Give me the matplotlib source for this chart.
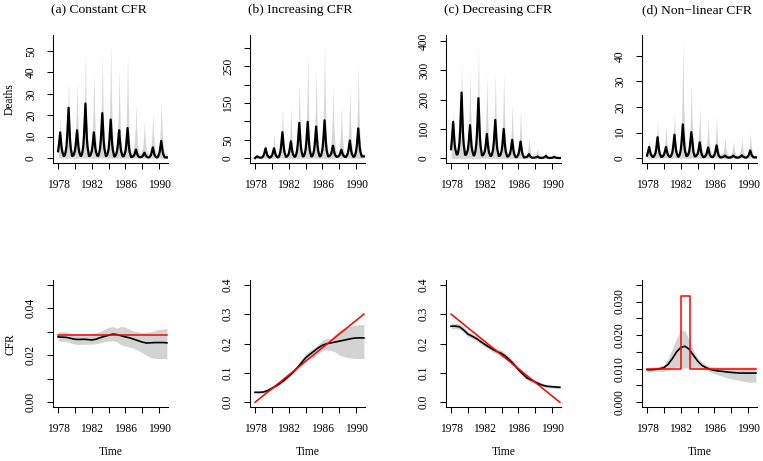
import numpy as np
import matplotlib
matplotlib.use("Agg")
import matplotlib.pyplot as plt

plt.rcParams['font.family'] = ['Liberation Serif', 'DejaVu Serif']

# figure geometry in pixels
W, H = 763, 461
AX_LEFT = [53, 250, 446, 642]
AX_W = 115
TOP_ROW = (35, 163)
BOT_ROW = (280, 407)
TITLE_X = [99, 300.5, 498, 696.7]

TITLES = ['(a) Constant CFR', '(b) Increasing CFR', '(c) Decreasing CFR', '(d) Non\u2212linear CFR']
XTICKS = [1978, 1980, 1982, 1984, 1986, 1988, 1990]
XTICK_LABELS = ['1978', '', '1982', '', '1986', '', '1990']

# monthly deaths, one row per year 1978..1990 (Jan..Dec)
MONTHS = 1978 + np.arange(156) / 12

DEATHS_MED_A = [
    [3.2, 5.4, 8.7, 12, 8.2, 4.9, 2.9, 1.9, 1, 1, 1.7, 3.3],
    [5.5, 10, 16.8, 23.5, 15.6, 8.9, 4.8, 2.8, 1, 1, 1.4, 2.2],
    [3.4, 5.8, 9.4, 13, 8.8, 5.2, 3, 2, 1, 1, 1.7, 3.5],
    [5.9, 10.8, 18.2, 25.5, 16.9, 9.6, 5.2, 3, 1, 1, 1.3, 2.1],
    [3.2, 5.4, 8.7, 12, 8.2, 4.9, 2.9, 1.9, 1, 1, 1.6, 3],
    [5, 9, 15, 21, 14, 8, 4.4, 2.6, 1, 1, 1.5, 2.7],
    [4.2, 7.7, 12.8, 18, 12, 6.8, 3.7, 2.2, 0.8, 0.8, 1.2, 2],
    [3.2, 5.7, 9.3, 13, 8.7, 5.1, 2.9, 1.8, 0.8, 0.8, 1.2, 2.1],
    [3.2, 5.9, 10, 14, 9.3, 5.2, 2.8, 1.6, 0.5, 0.5, 0.6, 0.9],
    [1.1, 1.8, 2.9, 4, 2.7, 1.7, 1, 0.7, 0.4, 0.4, 0.5, 0.6],
    [0.7, 1.2, 1.8, 2.5, 1.7, 1.1, 0.7, 0.5, 0.3, 0.3, 0.4, 0.8],
    [1.2, 2.2, 3.6, 5, 3.4, 1.9, 1.1, 0.7, 0.3, 0.3, 0.5, 1.1],
    [1.8, 3.4, 5.7, 8, 5.3, 3, 1.6, 0.9, 0.3, 0.3, 0.3, 0.3],
]
DEATHS_HI_A = [
    [5.3, 7.5, 11.3, 18, 10.5, 7, 5, 3.9, 3, 3, 4, 5.6],
    [8, 12.9, 21.2, 36, 19.5, 11.9, 7.3, 5, 3, 3, 4, 5.6],
    [8, 12.9, 21.2, 36, 19.5, 11.9, 7.3, 5, 3, 3, 4.4, 6.8],
    [10, 17.1, 28.9, 50, 26.5, 15.7, 9.1, 5.8, 3, 3, 4.1, 6],
    [8.6, 14.1, 23.4, 40, 21.5, 13, 7.8, 5.2, 3, 3, 4.4, 6.6],
    [9.8, 16.5, 27.8, 48, 25.5, 15.2, 8.9, 5.7, 3, 3, 4.5, 7],
    [10.5, 18, 30.5, 53, 28, 16.5, 9.5, 6, 3, 3, 4.2, 6.1],
    [8.4, 14.4, 24.2, 42, 22.3, 13.2, 7.6, 4.9, 2.5, 2.5, 3.9, 6.1],
    [9.3, 16.2, 27.5, 48, 25.3, 14.8, 8.4, 5.2, 2.5, 2.5, 3.2, 4.3],
    [5.5, 8.9, 14.7, 25, 13.5, 8.2, 5, 3.4, 2, 2, 2.6, 3.5],
    [4.3, 6.5, 10.3, 17, 9.5, 6, 4, 2.9, 2, 2, 2.6, 3.5],
    [4.9, 7.7, 12.5, 21, 11.5, 7.1, 4.5, 3.1, 2, 2, 2.9, 4.3],
    [5.8, 9.5, 15.8, 27, 14.5, 8.8, 5.3, 3.5, 2, 2, 2, 2],
]

DEATHS_MED_B = [
    [0.5, 2.5, 4, 5, 3.8, 2.7, 2.1, 1.8, 1.5, 1.5, 2.3, 4.1],
    [7, 12, 19.5, 27, 18.3, 10.8, 6.3, 4, 2, 2, 2.8, 4.5],
    [7.4, 12.3, 19.7, 27, 18.4, 11.1, 6.7, 4.5, 2.5, 2.5, 4.6, 9.4],
    [17.4, 30.8, 50.9, 71, 47.6, 27.5, 15.4, 9.4, 4, 4, 5.3, 8.2],
    [12.4, 20.8, 33.4, 46, 31.3, 18.7, 11.1, 7.4, 4, 4, 6.8, 13.2],
    [23.2, 41.4, 68.7, 96, 64.2, 36.9, 20.5, 12.3, 5, 5, 7.8, 14.4],
    [23.8, 42.6, 70.8, 99, 66.1, 37.9, 21, 12.5, 5, 5, 7.4, 13.1],
    [21.2, 37.4, 61.7, 86, 57.7, 33.4, 18.8, 11.5, 5, 5, 7.9, 14.8],
    [24.6, 44.2, 73.6, 103, 68.7, 39.3, 21.7, 12.8, 5, 5, 5.9, 7.9],
    [10, 16, 25, 34, 23.5, 14.5, 9.1, 6.4, 4, 4, 4.6, 5.9],
    [7.4, 11.3, 17.2, 23, 16.2, 10.3, 6.8, 5.1, 3.5, 3.5, 4.8, 8],
    [12.8, 21.6, 34.8, 48, 32.6, 19.4, 11.5, 7.5, 4, 4, 6.3, 11.7],
    [20.2, 35.4, 58.2, 81, 54.4, 31.6, 17.9, 11.1, 5, 5, 5, 5],
]
DEATHS_HI_B = [
    [5.5, 7, 9.5, 14, 9, 6.7, 5.3, 4.6, 4, 4, 5, 6.6],
    [10.5, 15, 22.5, 36, 21, 14.1, 9.9, 7.8, 6, 6, 7.9, 11],
    [17, 26, 41, 68, 38, 24.2, 15.8, 11.6, 8, 8, 11.8, 18.2],
    [28.9, 47.8, 79.3, 136, 73, 44, 26.4, 17.6, 10, 10, 13.8, 20],
    [28.8, 47.5, 78.8, 135, 72.5, 43.8, 26.3, 17.5, 10, 10, 16, 25.9],
    [41.6, 71.1, 120, 209, 110.5, 65.2, 37.6, 23.8, 12, 12, 20.1, 33.6],
    [53.4, 93.7, 161, 282, 147.5, 85.6, 48, 29.1, 13, 13, 19.8, 31.2],
    [47.2, 81.4, 138, 241, 127, 74.6, 42.6, 26.7, 13, 13, 21.9, 36.7],
    [57.4, 101.8, 176, 309, 161, 92.9, 51.5, 30.8, 13, 13, 18.3, 27.2],
    [38, 65, 110, 191, 101, 59.6, 34.4, 21.8, 11, 11, 14.9, 21.4],
    [29.7, 49.3, 82, 141, 75.5, 45.4, 27, 17.9, 10, 10, 15.4, 24.3],
    [37.7, 64.4, 108.9, 189, 100, 59, 34.1, 21.7, 11, 11, 18.3, 30.4],
    [49.2, 85.3, 145.6, 254, 133.5, 78.1, 44.3, 27.5, 13, 13, 13, 13],
]

DEATHS_MED_C = [
    [31, 57.4, 90.7, 124, 85.2, 51.9, 31.9, 21.9, 13, 13, 19.3, 34.1],
    [54.4, 96.8, 160.4, 224, 149.8, 86.2, 48, 29, 12, 12, 15, 22.1],
    [30.6, 51.2, 82.1, 113, 77, 46, 27.5, 18.2, 10, 10, 15.9, 29.5],
    [49, 88, 146.5, 205, 136.8, 78.3, 43.2, 25.6, 10, 10, 12.2, 17.3],
    [23, 38, 60.5, 83, 56.8, 34.3, 20.8, 14, 8, 8, 11.7, 20.3],
    [32.6, 57.2, 94.1, 131, 88, 51, 28.9, 17.8, 8, 8, 10.8, 17.2],
    [24.8, 43.6, 71.8, 100, 67.1, 38.9, 22, 13.5, 6, 6, 7.7, 11.7],
    [15.8, 27.6, 45.3, 63, 42.4, 24.7, 14, 8.7, 4, 4, 5.6, 9.3],
    [13.8, 24.6, 40.8, 57, 38.1, 21.9, 12.2, 7.3, 3, 3, 3.3, 4.1],
    [4.4, 6.8, 10.4, 14, 9.8, 6.2, 4, 3, 2, 2, 2.1, 2.4],
    [2.4, 3.3, 4.7, 6, 4.4, 3.1, 2.3, 1.9, 1.5, 1.5, 1.7, 2.2],
    [2.6, 3.9, 6, 8, 5.6, 3.6, 2.4, 1.7, 1.2, 1.2, 1.3, 1.6],
    [1.8, 2.6, 3.8, 5, 3.6, 2.4, 1.7, 1.3, 1, 1, 1, 1],
]
DEATHS_HI_C = [
    [40, 62.3, 97.6, 161, 90.5, 58.1, 38.3, 28.5, 20, 20, 29.1, 44.2],
    [65.3, 110.6, 186.1, 322, 171, 101.5, 59.3, 38.1, 20, 20, 28.2, 42],
    [59.3, 100.5, 169.3, 293, 155.5, 92.3, 53.8, 34.5, 18, 18, 29, 47.4],
    [73.1, 128.1, 219.9, 385, 201.5, 117.1, 65.7, 40, 18, 18, 25.9, 39.1],
    [55.9, 95.8, 162.3, 282, 149, 87.8, 50.6, 32, 16, 16, 24.3, 38.2],
    [56.7, 98.4, 167.9, 293, 154, 90.1, 51.1, 31.7, 15, 15, 23.3, 37.2],
    [55.9, 97.7, 167.5, 293, 153.5, 89.3, 50.3, 30.7, 14, 14, 19.1, 27.6],
    [36.1, 62.2, 105.7, 184, 97, 57, 32.6, 20.4, 10, 10, 14.9, 23],
    [32.6, 57.2, 98.2, 172, 90, 52.3, 29.3, 17.8, 8, 8, 10, 13.4],
    [15.5, 26, 43.5, 75, 40, 23.9, 14.1, 9.2, 5, 5, 5.9, 7.3],
    [9.4, 13.7, 21, 34, 19.5, 12.8, 8.8, 6.7, 5, 5, 5.6, 6.7],
    [7.2, 10.3, 15.6, 25, 14.5, 9.7, 6.7, 5.3, 4, 4, 4.4, 5.1],
    [5.1, 7.2, 10.7, 17, 10, 6.8, 4.8, 3.8, 3, 3, 3, 3],
]

DEATHS_MED_D = [
    [1, 2.1, 3.2, 4.4, 3, 1.9, 1.2, 0.8, 0.5, 0.5, 0.7, 1.3],
    [2, 3.6, 5.9, 8.2, 5.5, 3.2, 1.8, 1.1, 0.5, 0.5, 0.6, 0.9],
    [1.3, 2.1, 3.2, 4.4, 3, 1.9, 1.2, 0.8, 0.5, 0.5, 0.8, 1.4],
    [2.3, 4, 6.6, 9.2, 6.2, 3.6, 2.1, 1.3, 0.6, 0.6, 1, 1.9],
    [3.3, 5.8, 9.5, 13.2, 8.9, 5.1, 2.9, 1.8, 0.8, 0.8, 1.1, 1.7],
    [2.6, 4.5, 7.4, 10.2, 8, 5.5, 2.5, 1.5, 0.7, 0.7, 0.9, 1.3],
    [1.6, 2.7, 4.5, 6.2, 4.2, 2.4, 1.4, 0.9, 0.4, 0.4, 0.5, 0.8],
    [1.2, 1.9, 3.1, 4.2, 2.9, 1.7, 1, 0.7, 0.4, 0.4, 0.5, 0.9],
    [1.2, 2.2, 3.6, 5, 3.4, 1.9, 1.1, 0.7, 0.3, 0.3, 0.3, 0.4],
    [0.4, 0.5, 0.8, 1, 0.7, 0.5, 0.3, 0.3, 0.2, 0.2, 0.2, 0.3],
    [0.4, 0.5, 0.8, 1, 0.7, 0.5, 0.3, 0.3, 0.2, 0.2, 0.2, 0.3],
    [0.4, 0.6, 0.8, 1.1, 0.8, 0.5, 0.4, 0.3, 0.2, 0.2, 0.3, 0.5],
    [0.8, 1.4, 2.2, 3, 2.1, 1.2, 0.8, 0.5, 0.3, 0.3, 0.3, 0.3],
]
DEATHS_HI_D = [
    [2.6, 3.5, 4.8, 7.3, 4.6, 3.3, 2.5, 2.1, 1.8, 1.8, 2.2, 2.8],
    [3.6, 5.4, 8.5, 13.9, 7.9, 5.1, 3.4, 2.5, 1.8, 1.8, 2.1, 2.7],
    [3.4, 5, 7.7, 12.5, 7.2, 4.7, 3.2, 2.4, 1.8, 1.8, 2.3, 3.1],
    [4.4, 6.7, 10.7, 17.8, 9.9, 6.3, 4.1, 2.9, 2, 2, 3.3, 5.4],
    [8.9, 15.3, 25.9, 45, 23.8, 14, 8, 5.1, 2.5, 2.5, 3.3, 4.7],
    [6.4, 10.5, 17.5, 30, 16.1, 9.7, 5.8, 3.9, 2.2, 2.2, 2.7, 3.6],
    [4.7, 7.3, 11.8, 19.8, 10.9, 6.8, 4.3, 3.1, 2, 2, 2.4, 3],
    [3.8, 5.8, 9.1, 15, 8.4, 5.4, 3.5, 2.6, 1.8, 1.8, 2.2, 3],
    [3.8, 6, 9.8, 16.5, 9, 5.6, 3.5, 2.4, 1.5, 1.5, 1.7, 2.1],
    [2.3, 3.4, 5.3, 8.6, 4.9, 3.2, 2.2, 1.6, 1.2, 1.2, 1.4, 1.6],
    [2, 2.8, 4.2, 6.6, 3.9, 2.7, 1.9, 1.5, 1.2, 1.2, 1.4, 1.7],
    [2.2, 3.2, 5, 8, 4.6, 3, 2.1, 1.6, 1.2, 1.2, 1.5, 1.9],
    [2.5, 3.8, 6, 10, 5.6, 3.6, 2.3, 1.7, 1.2, 1.2, 1.2, 1.2],
]

DEATHS_YLIM = [(-2.3, 57.5), (-13, 335), (-16, 420), (-1.9, 48.2)]
DEATHS_YTICKS = [[0, 10, 20, 30, 40, 50],
                 [0, 50, 100, 150, 200, 250, 300],
                 [0, 100, 200, 300, 400],
                 [0, 10, 20, 30, 40]]
DEATHS_YLABELS = [['0', '10', '20', '30', '40', '50'],
                  ['0', '50', '', '150', '', '250', ''],
                  ['0', '100', '200', '300', '400'],
                  ['0', '10', '20', '30', '40']]

# CFR estimates on a half-year grid
CFR_TIME = [1978.0, 1978.5, 1979.0, 1979.5, 1980.0, 1980.5, 1981.0, 1981.5, 1982.0,
            1982.5, 1983.0, 1983.5, 1984.0, 1984.5, 1985.0, 1985.5, 1986.0, 1986.5,
            1987.0, 1987.5, 1988.0, 1988.5, 1989.0, 1989.5, 1990.0, 1990.5, 1990.92]

CFR_MED_A = [.0278, .0277, .0276, .0272, .0268, .0267, .0268, .0267, .0265, .0268, .0275, .0280, .0285,
             .0290, .0288, .0283, .0278, .0274, .0268, .0262, .0256, .0252, .0253, .0254, .0254, .0254, .0253]
CFR_HI_A = [.0300, .0300, .0299, .0294, .0289, .0288, .0289, .0291, .0293, .0296, .0301, .0310, .0319,
            .0322, .0315, .0323, .0319, .0310, .0303, .0299, .0297, .0298, .0300, .0305, .0310, .0312, .0313]
CFR_LO_A = [.0260, .0259, .0258, .0252, .0247, .0246, .0247, .0247, .0247, .0249, .0253, .0257, .0261,
            .0262, .0257, .0244, .0239, .0234, .0229, .0220, .0210, .0200, .0190, .0187, .0186, .0186, .0186]
TRUE_T_A = [1978.0, 1990.92]
TRUE_A = [0.0285, 0.0285]

CFR_MED_B = [.034, .034, .035, .040, .048, .056, .065, .076, .089, .102, .117, .134, .151,
             .163, .174, .185, .194, .199, .202, .205, .208, .211, .214, .217, .219, .219, .219]
CFR_HI_B = [.037, .037, .038, .044, .051, .060, .071, .082, .095, .110, .126, .146, .166,
            .176, .186, .198, .211, .217, .217, .232, .246, .252, .257, .260, .263, .264, .265]
CFR_LO_B = [.031, .031, .032, .036, .042, .050, .059, .070, .082, .095, .109, .126, .143,
            .149, .154, .166, .177, .178, .177, .171, .160, .156, .152, .150, .149, .149, .149]
TRUE_T_B = [1978.0, 1990.92]
TRUE_B = [0.0, 0.3]

CFR_MED_C = [.259, .259, .257, .246, .232, .225, .217, .207, .197, .188, .179, .172, .166,
             .156, .143, .128, .111, .097, .083, .076, .069, .062, .057, .054, .053, .052, .051]
CFR_HI_C = [.269, .269, .267, .256, .241, .234, .226, .216, .206, .197, .188, .182, .177,
            .166, .152, .137, .119, .105, .091, .083, .076, .069, .063, .060, .058, .057, .057]
CFR_LO_C = [.251, .250, .248, .237, .223, .216, .208, .198, .188, .179, .170, .163, .157,
            .147, .134, .119, .103, .089, .075, .069, .062, .056, .051, .049, .048, .047, .046]
TRUE_T_C = [1978.0, 1990.92]
TRUE_C = [0.3, 0.0]

CFR_MED_D = [.0097, .0097, .0098, .0100, .0103, .0113, .0130, .0150, .0163, .0167, .0158, .0140, .0123,
             .0110, .0103, .0098, .0095, .0093, .0092, .0090, .0089, .0088, .0087, .0087, .0087, .0087, .0087]
CFR_HI_D = [.0103, .0104, .0105, .0108, .0112, .0130, .0160, .0190, .0215, .0213, .0185, .0155, .0133,
            .0120, .0112, .0107, .0105, .0105, .0105, .0105, .0105, .0105, .0105, .0105, .0105, .0105, .0105]
CFR_LO_D = [.0088, .0090, .0092, .0092, .0092, .0095, .0102, .0105, .0103, .0102, .0102, .0102, .0102,
            .0099, .0095, .0090, .0085, .0081, .0077, .0073, .0070, .0067, .0065, .0062, .0060, .0060, .0060]
TRUE_T_D = [1978.0, 1982.04, 1983.1, 1990.92]
TRUE_D = [0.010, 0.0315, 0.010, 0.010]

CFR_YLIM = [(-0.002, 0.052), (-0.016, 0.416), (-0.016, 0.416), (-0.0014, 0.0364)]
CFR_YTICKS = [[0, .01, .02, .03, .04, .05],
              [0, .1, .2, .3, .4],
              [0, .1, .2, .3, .4],
              [0, .005, .01, .015, .02, .025, .03, .035]]
CFR_YLABELS = [['0.00', '', '0.02', '', '0.04', ''],
               ['0.0', '0.1', '0.2', '0.3', '0.4'],
               ['0.0', '0.1', '0.2', '0.3', '0.4'],
               ['0.000', '', '0.010', '', '0.020', '', '0.030', '']]

deaths_med = [DEATHS_MED_A, DEATHS_MED_B, DEATHS_MED_C, DEATHS_MED_D]
deaths_hi = [DEATHS_HI_A, DEATHS_HI_B, DEATHS_HI_C, DEATHS_HI_D]
cfr_med = [CFR_MED_A, CFR_MED_B, CFR_MED_C, CFR_MED_D]
cfr_hi = [CFR_HI_A, CFR_HI_B, CFR_HI_C, CFR_HI_D]
cfr_lo = [CFR_LO_A, CFR_LO_B, CFR_LO_C, CFR_LO_D]
true_t = [TRUE_T_A, TRUE_T_B, TRUE_T_C, TRUE_T_D]
true_v = [TRUE_A, TRUE_B, TRUE_C, TRUE_D]


def make_axes(fig, left, row):
    top, bottom = row
    return fig.add_axes([left / W, 1 - bottom / H, AX_W / W, (bottom - top) / H])


def style_axes(ax, yticks, ylabels, ylim):
    """R-ish look: only left/bottom lines, ticks outside"""
    for s in ['top', 'right']:
        ax.spines[s].set_visible(False)
    for s in ['left', 'bottom']:
        ax.spines[s].set_linewidth(0.75)
    ax.set_xlim(1977.4, 1991.05)
    ax.set_ylim(*ylim)
    ax.set_xticks(XTICKS)
    ax.set_xticklabels(XTICK_LABELS)
    ax.set_yticks(yticks)
    ax.set_yticklabels(ylabels, rotation=90, va='center')
    ax.tick_params(length=4, width=0.75, pad=7.5, labelsize=8.3, colors='black')


fig = plt.figure(figsize=(W / 100, H / 100), dpi=100)

for i in range(4):
    # deaths: posterior predictive band + median
    ax = make_axes(fig, AX_LEFT[i], TOP_ROW)
    med = np.array(deaths_med[i], dtype=float).ravel()
    hi = np.array(deaths_hi[i], dtype=float).ravel()
    # lower band sits at about zero in the picture
    ax.fill_between(MONTHS, 0, hi, color='#d6d6d6', lw=0)
    ax.plot(MONTHS, med, color='black', lw=1.6)
    style_axes(ax, DEATHS_YTICKS[i], DEATHS_YLABELS[i], DEATHS_YLIM[i])
    fig.text(TITLE_X[i] / W, 1 - 10 / H, TITLES[i], ha='center', va='center', fontsize=9.7)

    # CFR: band, estimate, true value
    ax2 = make_axes(fig, AX_LEFT[i], BOT_ROW)
    ax2.fill_between(CFR_TIME, cfr_lo[i], cfr_hi[i], color='#d3d3d3', lw=0)
    ax2.plot(CFR_TIME, cfr_med[i], color='black', lw=1.2)
    if i == 3:
        ax2.step(true_t[i], true_v[i], where='post', color='red', lw=1.1)
    else:
        ax2.plot(true_t[i], true_v[i], color='red', lw=1.1)
    style_axes(ax2, CFR_YTICKS[i], CFR_YLABELS[i], CFR_YLIM[i])
    fig.text((AX_LEFT[i] + AX_W / 2) / W, 1 - 451.5 / H, 'Time', ha='center', va='center', fontsize=8.3)

fig.text(9.5 / W, 1 - 99 / H, 'Deaths', rotation=90, ha='center', va='center', fontsize=8.3)
fig.text(10 / W, 1 - 344 / H, 'CFR', rotation=90, ha='center', va='center', fontsize=8.3)

fig.savefig('out.png', dpi=100)
